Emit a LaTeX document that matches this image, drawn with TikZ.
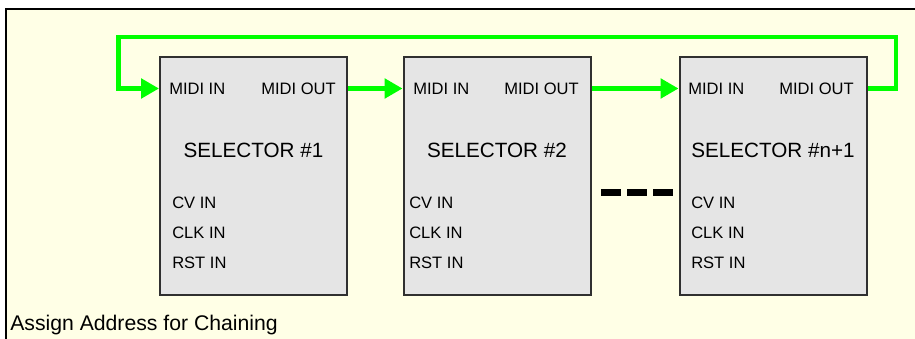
\documentclass[tikz,border=0pt]{standalone}
\usepackage{fontspec}
\setmainfont{Liberation Sans}
\usepackage{xcolor}
\usetikzlibrary{arrows.meta}

\definecolor{bgyellow}{RGB}{255,255,230}
\definecolor{boxgray}{RGB}{229,229,229}
\definecolor{boxline}{RGB}{48,48,48}
\definecolor{wiregreen}{RGB}{0,255,0}

\begin{document}
\begin{tikzpicture}[x=0.75pt,y=0.75pt,yscale=-1,
  selbox/.style={draw=boxline,line width=1.5pt,fill=boxgray,minimum width=140.25pt,minimum height=178.5pt,inner sep=0pt},
  port/.style={inner sep=0pt,font=\fontsize{12.4}{14}\selectfont},
  title/.style={inner sep=0pt,font=\fontsize{15.5}{18}\selectfont},
  wire/.style={draw=wiregreen,line width=3.3pt},
  tip/.style={-{Triangle[length=13.5pt,width=14.5pt]}}]
\useasboundingbox (0,0) rectangle (915,339);

%Frame
\fill[bgyellow] (6,9) rectangle (915,339);
\draw[line width=1.2pt] (915,9) -- (6,9) -- (6,339);

%Selector boxes
\node[selbox] (sel1) at (253.5,176) {};
\node[selbox] (sel2) at (497,176) {};
\node[selbox] (sel3) at (773,176) {};

% Text Node
\node[port,anchor=west] (in1) at (169,88.5) {MIDI IN};
\node[port,anchor=east] (out1) at (336,88.5) {MIDI OUT};
\node[title] (name1) at (253.5,150) {SELECTOR \#1};
\node[port,anchor=west] (cv1) at (172,203) {CV IN};
\node[port,anchor=west] (clk1) at (172,233) {CLK IN};
\node[port,anchor=west] (rst1) at (172,263) {RST IN};
% Text Node
\node[port,anchor=west] (in2) at (413,88.5) {MIDI IN};
\node[port,anchor=east] (out2) at (579,88.5) {MIDI OUT};
\node[title] (name2) at (497,150) {SELECTOR \#2};
\node[port,anchor=west] (cv2) at (409,203) {CV IN};
\node[port,anchor=west] (clk2) at (409,233) {CLK IN};
\node[port,anchor=west] (rst2) at (409,263) {RST IN};
% Text Node
\node[port,anchor=west] (in3) at (688,88.5) {MIDI IN};
\node[port,anchor=east] (out3) at (854,88.5) {MIDI OUT};
\node[title] (name3) at (773,150) {SELECTOR \#n+1};
\node[port,anchor=west] (cv3) at (691,203) {CV IN};
\node[port,anchor=west] (clk3) at (691,233) {CLK IN};
\node[port,anchor=west] (rst3) at (691,263) {RST IN};
% Text Node
\node[title,anchor=base west,font=\fontsize{15.9}{18}\selectfont] (caption) at (10,330) {Assign Address for Chaining};

%MIDI chain
\draw[wire,tip] (out1 -| sel1.east) -- (in2 -| sel2.west);
\draw[wire,tip] (out2 -| sel2.east) -- (in3 -| sel3.west);
\coordinate (loopR) at (896,37);
\coordinate (loopL) at (118.5,37);
\draw[wire,tip] (out3 -| sel3.east) -| (loopR) -- (loopL) |- (in1 -| sel1.west);

%Dashes
\coordinate (gapL) at (601,192.5);
\coordinate (gapR) at (673,192.5);
\draw[line width=4.9pt,dash pattern=on 15pt off 4.5pt] (gapL) -- (gapR);

\end{tikzpicture}
\end{document}
